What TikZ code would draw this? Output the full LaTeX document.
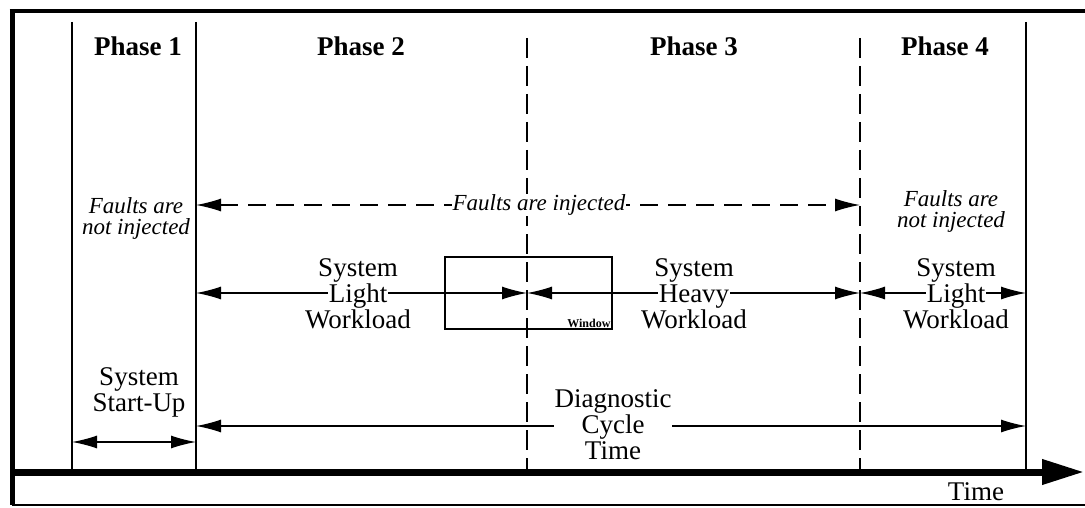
\documentclass[tikz,border=0pt]{standalone}
\usepackage{fontspec}
\setmainfont{Liberation Serif}
\usetikzlibrary{arrows.meta,positioning}

\begin{document}
\begin{tikzpicture}[
    x=1pt, y=-1pt,
    frame/.style={line width=4pt},
    phaseline/.style={line width=1.3pt},
    cutline/.style={line width=1.3pt, dash pattern=on 20pt off 8pt},
    span/.style={{Latex[length=25pt,width=13pt]}-{Latex[length=25pt,width=13pt]}, line width=1.3pt},
    faultspan/.style={span, dash pattern=on 18pt off 10pt},
    timeaxis/.style={line width=7pt, -{Triangle[length=42pt,width=24pt]}},
    phasetitle/.style={font=\fontsize{27}{28}\selectfont\bfseries},
    note/.style={font=\fontsize{23}{21}\selectfont\itshape, align=center, inner sep=1pt},
    workload/.style={font=\fontsize{27}{26}\selectfont, align=center, inner sep=1pt},
    tiny/.style={font=\fontsize{12}{12}\selectfont\bfseries, inner sep=2pt}
]
\useasboundingbox (0,0) rectangle (1085,508);
\setlength{\fboxsep}{1pt}

% frame
\coordinate (ftl) at (12,11);
\coordinate (ftr) at (1085,11);
\coordinate (fbl) at (12,505);
\coordinate (fbr) at (1085,505);
\draw[frame] ([xshift=-2.5pt]ftl) -- (ftr);
\draw[line width=5pt] ([yshift=-2pt]ftl) -- (fbl);
\draw[line width=1.2pt] (fbl) -- (fbr);

% phase boundaries
\coordinate (b0t) at (72,22);    \coordinate (b0b) at (72,472);
\coordinate (b1t) at (196,22);   \coordinate (b1b) at (196,472);
\coordinate (b2t) at (527,38);   \coordinate (b2b) at (527,472);
\coordinate (b3t) at (860,38);   \coordinate (b3b) at (860,472);
\coordinate (b4t) at (1026,22);  \coordinate (b4b) at (1026,472);
\draw[phaseline] (b0t) -- (b0b);
\draw[phaseline] (b1t) -- (b1b);
\draw[cutline] (b2t) -- (b2b);
\draw[cutline] (b3t) -- (b3b);
\draw[phaseline] (b4t) -- (b4b);

% rows
\coordinate (rowfault) at (0,205);
\coordinate (rowload) at (0,293);
\coordinate (rowcycle) at (0,426);
\coordinate (rowstart) at (0,442);

% titles
\node[phasetitle] (ph1) at (138,46) {Phase 1};
\node[phasetitle] (ph2) at (361,46) {Phase 2};
\node[phasetitle] (ph3) at (694,46) {Phase 3};
\node[phasetitle] (ph4) at (945,46) {Phase 4};

\node[note] (nofault1) at (136,218) {Faults are\\not injected};
\node[note] (nofault4) at (951,211) {Faults are\\not injected};

% window
\node[draw, line width=1.3pt, minimum width=167pt, minimum height=72pt, inner sep=0pt] (window) at (528.5,293) {};
\node[tiny, anchor=south east] (windowtag) at (window.south east) {Window};

% spans
\draw[faultspan] (b1t |- rowfault) -- (b3t |- rowfault);
\node[note, fill=white] (fault) at (539,205) {Faults are injected};

\draw[span] (b1t |- rowload) -- (b2t |- rowload);
\draw[span] (b3t |- rowload) -- (b2t |- rowload);
\draw[span] (b3t |- rowload) -- (b4t |- rowload);
\node[workload] (light2) at (358,294) {System\\\colorbox{white}{Light}\\Workload};
\node[workload] (heavy3) at (694,294) {System\\\colorbox{white}{Heavy}\\Workload};
\node[workload] (light4) at (956,294) {System\\\colorbox{white}{Light}\\Workload};

\draw[span] (b1b |- rowcycle) -- (b4b |- rowcycle);
\node[workload, fill=white] (cycle) at (613,425) {Diagnostic\\Cycle\\Time};

\draw[span] (b0b |- rowstart) -- (b1b |- rowstart);
\node[workload] (startup) at (139,392) {System\\Start-Up};

% time axis
\coordinate (axisstart) at (12,472);
\coordinate (axisend) at (1084,472);
\draw[timeaxis] (axisstart) -- (axisend);
\node[workload] (time) at (976,492) {Time};

\end{tikzpicture}
\end{document}
